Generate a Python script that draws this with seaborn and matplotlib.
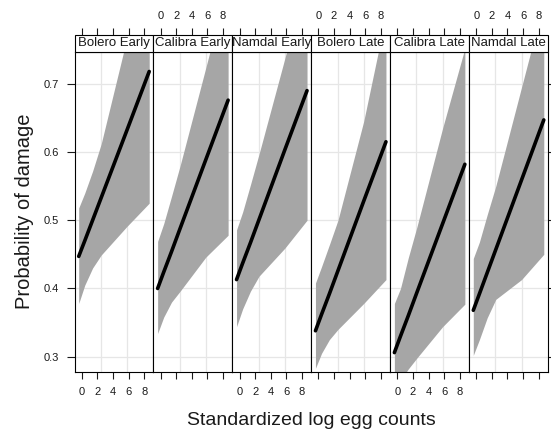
import numpy as np
import pandas as pd
import matplotlib
matplotlib.use("Agg")
import matplotlib.pyplot as plt
from matplotlib.patches import Rectangle
import seaborn as sns

sns.set_style("white")
plt.rcParams["font.family"] = ["Liberation Sans", "DejaVu Sans"]

# Effect of standardized log egg counts on damage probability, by variety x sowing time
panels = ["Bolero Early", "Calibra Early", "Namdal Early",
          "Bolero Late", "Calibra Late", "Namdal Late"]
egg = [-0.38, 0.4, 1.4, 2.5, 5.8, 8.65]

fit_bolero_early = [0.447, 0.470, 0.500, 0.533, 0.632, 0.718]
fit_calibra_early = [0.400, 0.424, 0.454, 0.488, 0.589, 0.676]
fit_namdal_early = [0.413, 0.437, 0.467, 0.501, 0.603, 0.690]
fit_bolero_late = [0.338, 0.362, 0.392, 0.426, 0.528, 0.615]
fit_calibra_late = [0.306, 0.330, 0.360, 0.394, 0.495, 0.582]
fit_namdal_late = [0.368, 0.392, 0.423, 0.457, 0.559, 0.647]

lo_bolero_early = [0.378, 0.405, 0.430, 0.449, 0.491, 0.525]
lo_calibra_early = [0.334, 0.358, 0.380, 0.396, 0.446, 0.478]
lo_namdal_early = [0.344, 0.370, 0.396, 0.418, 0.459, 0.500]
lo_bolero_late = [0.283, 0.305, 0.325, 0.340, 0.378, 0.413]
lo_calibra_late = [0.255, 0.265, 0.282, 0.298, 0.344, 0.377]
lo_namdal_late = [0.302, 0.325, 0.357, 0.384, 0.413, 0.450]

hi_bolero_early = [0.518, 0.540, 0.572, 0.612, 0.767, 0.900]
hi_calibra_early = [0.469, 0.495, 0.535, 0.580, 0.724, 0.850]
hi_namdal_early = [0.486, 0.512, 0.552, 0.597, 0.737, 0.860]
hi_bolero_late = [0.408, 0.432, 0.464, 0.500, 0.645, 0.800]
hi_calibra_late = [0.378, 0.400, 0.445, 0.490, 0.635, 0.752]
hi_namdal_late = [0.444, 0.468, 0.508, 0.550, 0.695, 0.820]

fits = [fit_bolero_early, fit_calibra_early, fit_namdal_early,
        fit_bolero_late, fit_calibra_late, fit_namdal_late]
lows = [lo_bolero_early, lo_calibra_early, lo_namdal_early,
        lo_bolero_late, lo_calibra_late, lo_namdal_late]
highs = [hi_bolero_early, hi_calibra_early, hi_namdal_early,
         hi_bolero_late, hi_calibra_late, hi_namdal_late]

x_ticks = [0, 2, 4, 6, 8]
y_ticks = [0.3, 0.4, 0.5, 0.6, 0.7]
y_tick_labels = ["0.3", "0.4", "0.5", "0.6", "0.7"]

rows = []
for name, f, lo, hi in zip(panels, fits, lows, highs):
    for xv, fv, lv, hv in zip(egg, f, lo, hi):
        rows.append({"panel": name, "egg": xv, "fit": fv, "lower": lv, "upper": hv})
df = pd.DataFrame(rows)

W, H = 551, 429
fig, axes = plt.subplots(1, 6, figsize=(W / 100, H / 100), dpi=100, sharey=True)
fig.subplots_adjust(left=74.5 / W, right=548 / W, bottom=1 - 371.7 / H,
                    top=1 - 51.7 / H, wspace=0)

xlim = (-0.92, 9.19)
ylim = (0.278, 0.747)
strip_h = 16.7 / 320.0
ink = "#1a1a1a"
grid_col = "#e6e6e6"
tick_size = 8

for i, (ax, name) in enumerate(zip(axes, panels)):
    sub = df[df["panel"] == name]
    ax.set_xlim(*xlim)
    ax.set_ylim(*ylim)

    # light reference grid: horizontal at y ticks, vertical at thirds of the panel
    for yv in y_ticks:
        ax.axhline(yv, color=grid_col, lw=0.9, zorder=0)
    span = xlim[1] - xlim[0]
    for k in (1, 2):
        ax.axvline(xlim[0] + span * k / 3, color=grid_col, lw=0.9, zorder=0)

    ax.fill_between(sub["egg"], sub["lower"], sub["upper"],
                    color="#a6a6a6", lw=0, zorder=1)
    sns.lineplot(data=sub, x="egg", y="fit", color="black", lw=2.6,
                 estimator=None, ax=ax, zorder=2)
    ax.set_xlabel("")
    ax.set_ylabel("")

    for sp in ax.spines.values():
        sp.set_color("black")
        sp.set_linewidth(0.8)

    ax.set_xticks(x_ticks)
    ax.tick_params(axis="x", bottom=True, top=False, direction="out",
                   length=5, width=0.8, color=ink, labelsize=tick_size, pad=6,
                   labelcolor=ink, labelbottom=(i % 2 == 0))
    ax.set_yticks(y_ticks)
    ax.set_yticklabels(y_tick_labels)
    ax.tick_params(axis="y", direction="out", length=5.5, width=0.8, color=ink,
                   labelsize=tick_size, pad=5.5, labelcolor=ink,
                   left=(i == 0), labelleft=(i == 0),
                   right=(i == 5), labelright=False)

    # strip with panel name
    rect = Rectangle((0, 1), 1, strip_h, transform=ax.transAxes,
                     facecolor="white", edgecolor="black", lw=0.8,
                     clip_on=False, zorder=5)
    ax.add_patch(rect)
    t = ax.text(0.5, 1 + strip_h / 2, name, transform=ax.transAxes,
                ha="center", va="center", fontsize=9.5, color=ink, zorder=6)
    t.set_clip_path(rect)

    # tick marks above the strip
    sec = ax.secondary_xaxis(1 + strip_h)
    sec.set_xticks(x_ticks)
    sec.tick_params(direction="out", length=5, width=0.8, color=ink,
                    labelsize=tick_size, pad=5, labelcolor=ink,
                    labeltop=(i % 2 == 1))
    sec.spines["top"].set_visible(False)

fig.text(25 / W, 1 - 211.7 / H, "Probability of damage", rotation=90,
         ha="center", va="center", fontsize=14.5, color=ink)
fig.text(311 / W, 1 - 425 / H, "Standardized log egg counts",
         ha="center", va="baseline", fontsize=14, color=ink)

fig.savefig("out.png", dpi=100)
